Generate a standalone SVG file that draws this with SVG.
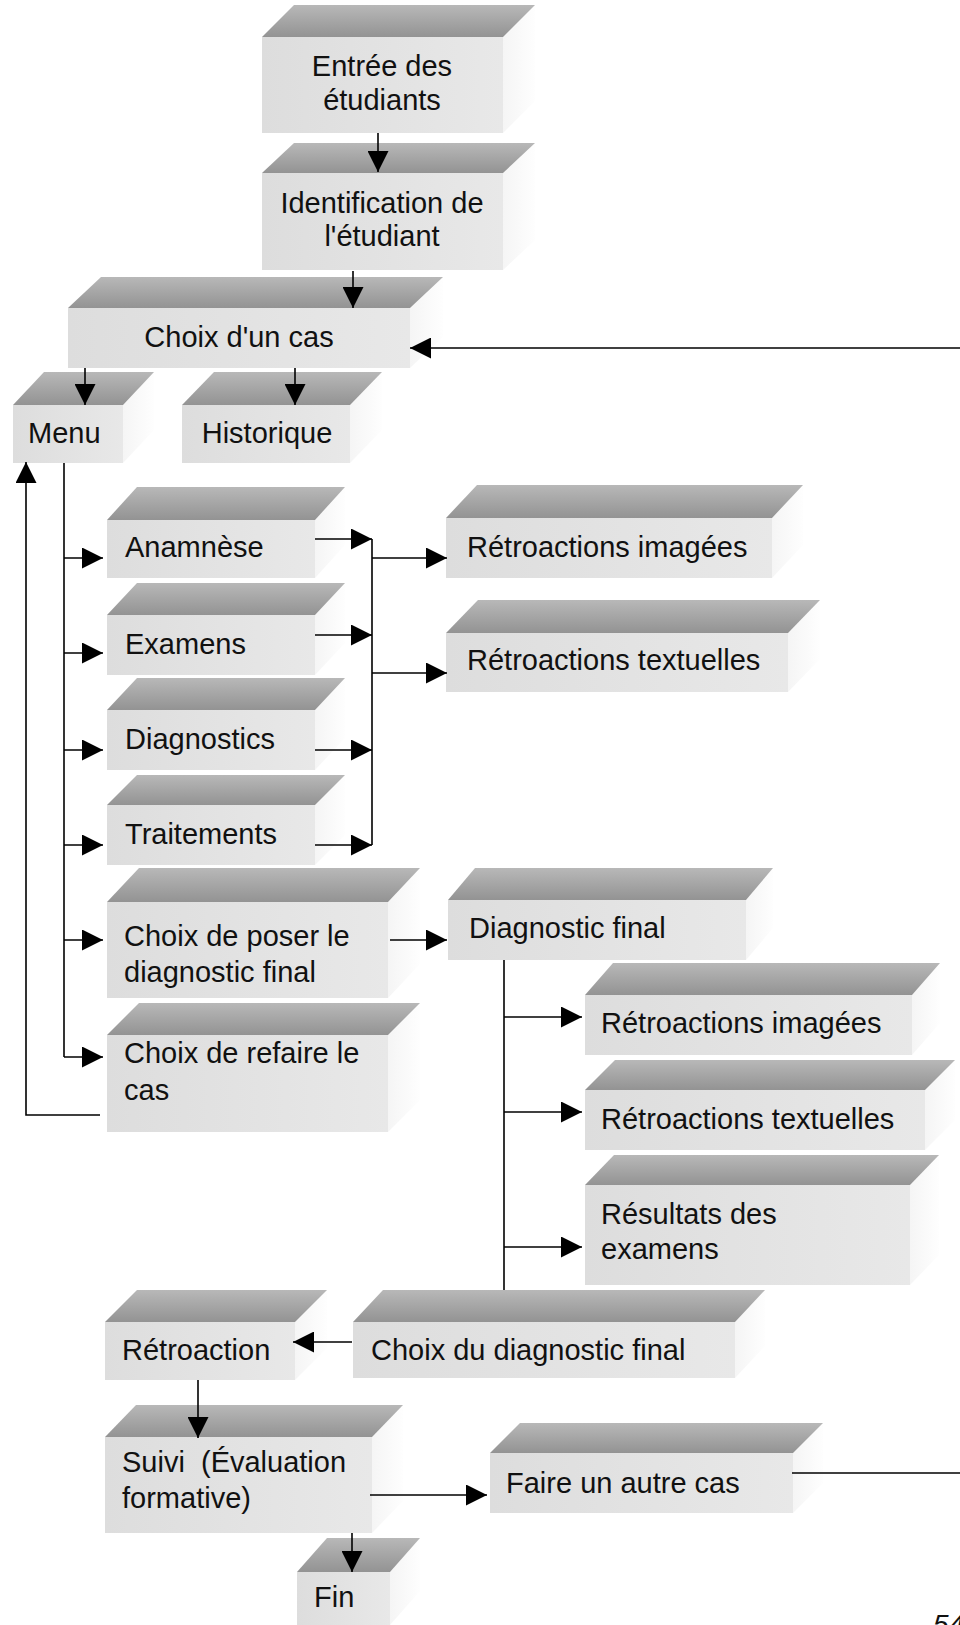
<svg xmlns="http://www.w3.org/2000/svg" width="960" height="1625" viewBox="0 0 960 1625">
<defs>
<linearGradient id="gTop" x1="0" y1="0" x2="0" y2="1"><stop offset="0" stop-color="#b8b8b8"/><stop offset="1" stop-color="#939393"/></linearGradient>
<linearGradient id="gFront" x1="0" y1="0" x2="1" y2="0"><stop offset="0" stop-color="#dddddd"/><stop offset="1" stop-color="#e8e8e8"/></linearGradient>
<linearGradient id="gSide" x1="0" y1="0" x2="1" y2="0"><stop offset="0" stop-color="#f5f5f5"/><stop offset="1" stop-color="#fefefe"/></linearGradient>
<marker id="ah" markerUnits="userSpaceOnUse" markerWidth="21" markerHeight="21" refX="21" refY="10.5" orient="auto" viewBox="0 0 21 21"><path d="M0,0 L21,10.5 L0,21 Z" fill="#000"/></marker>
</defs>
<style>
.top{fill:url(#gTop)}
.front{fill:url(#gFront)}
.side{fill:url(#gSide)}
.t{font-family:"Liberation Sans",Arial,sans-serif;font-size:29px;fill:#111}
.c{text-anchor:middle}
.ln{stroke:#000;stroke-width:1.6;fill:none}
.ar{marker-end:url(#ah)}
</style>
<rect width="960" height="1625" fill="#fff"/>

<g id="n-entree"><path class="side" d="M503,37 L535,5 V101 L503,133 Z"/><path class="top" d="M294,5 H535 L503,37 H262 Z"/><rect class="front" x="262" y="37" width="241" height="96"/><text class="t c" x="382" y="76">Entrée des</text><text class="t c" x="382" y="110">étudiants</text></g>
<g id="n-ident"><path class="side" d="M503,173 L535,143 V240 L503,270 Z"/><path class="top" d="M294,143 H535 L503,173 H262 Z"/><rect class="front" x="262" y="173" width="241" height="97"/><text class="t c" x="382" y="213">Identification de</text><text class="t c" x="382" y="246">l'étudiant</text></g>
<g id="n-choix"><path class="side" d="M410,308 L443,277 V337 L410,368 Z"/><path class="top" d="M101,277 H443 L410,308 H68 Z"/><rect class="front" x="68" y="308" width="342" height="60"/><text class="t c" x="239" y="347">Choix d'un cas</text></g>
<g id="n-menu"><path class="side" d="M123,405 L154,372 V430 L123,463 Z"/><path class="top" d="M44,372 H154 L123,405 H13 Z"/><rect class="front" x="13" y="405" width="110" height="58"/><text class="t" x="28" y="443">Menu</text></g>
<g id="n-hist"><path class="side" d="M350,405 L382,372 V430 L350,463 Z"/><path class="top" d="M214,372 H382 L350,405 H182 Z"/><rect class="front" x="182" y="405" width="168" height="58"/><text class="t c" x="267" y="443">Historique</text></g>
<g id="n-anam"><path class="side" d="M315,520 L345,487 V545 L315,578 Z"/><path class="top" d="M137,487 H345 L315,520 H107 Z"/><rect class="front" x="107" y="520" width="208" height="58"/><text class="t" x="125" y="557">Anamnèse</text></g>
<g id="n-exam"><path class="side" d="M315,615 L345,583 V643 L315,675 Z"/><path class="top" d="M137,583 H345 L315,615 H107 Z"/><rect class="front" x="107" y="615" width="208" height="60"/><text class="t" x="125" y="654">Examens</text></g>
<g id="n-diag"><path class="side" d="M315,710 L345,678 V738 L315,770 Z"/><path class="top" d="M137,678 H345 L315,710 H107 Z"/><rect class="front" x="107" y="710" width="208" height="60"/><text class="t" x="125" y="749">Diagnostics</text></g>
<g id="n-trait"><path class="side" d="M315,805 L345,775 V835 L315,865 Z"/><path class="top" d="M137,775 H345 L315,805 H107 Z"/><rect class="front" x="107" y="805" width="208" height="60"/><text class="t" x="125" y="844">Traitements</text></g>
<g id="n-poser"><path class="side" d="M388,902 L420,868 V964 L388,998 Z"/><path class="top" d="M139,868 H420 L388,902 H107 Z"/><rect class="front" x="107" y="902" width="281" height="96"/><text class="t" x="124" y="946">Choix de poser le</text><text class="t" x="124" y="982">diagnostic final</text></g>
<g id="n-refaire"><path class="side" d="M388,1035 L420,1003 V1100 L388,1132 Z"/><path class="top" d="M139,1003 H420 L388,1035 H107 Z"/><rect class="front" x="107" y="1035" width="281" height="97"/><text class="t" x="124" y="1063">Choix de refaire le</text><text class="t" x="124" y="1100">cas</text></g>
<g id="n-retim1"><path class="side" d="M772,518 L803,485 V545 L772,578 Z"/><path class="top" d="M477,485 H803 L772,518 H446 Z"/><rect class="front" x="446" y="518" width="326" height="60"/><text class="t" x="467" y="557">Rétroactions imagées</text></g>
<g id="n-rettx1"><path class="side" d="M788,633 L820,600 V659 L788,692 Z"/><path class="top" d="M478,600 H820 L788,633 H446 Z"/><rect class="front" x="446" y="633" width="342" height="59"/><text class="t" x="467" y="670">Rétroactions textuelles</text></g>
<g id="n-diagfinal"><path class="side" d="M746,900 L773,868 V928 L746,960 Z"/><path class="top" d="M475,868 H773 L746,900 H448 Z"/><rect class="front" x="448" y="900" width="298" height="60"/><text class="t" x="469" y="938">Diagnostic final</text></g>
<g id="n-retim2"><path class="side" d="M912,995 L940,963 V1023 L912,1055 Z"/><path class="top" d="M613,963 H940 L912,995 H585 Z"/><rect class="front" x="585" y="995" width="327" height="60"/><text class="t" x="601" y="1033">Rétroactions imagées</text></g>
<g id="n-rettx2"><path class="side" d="M925,1090 L955,1060 V1120 L925,1150 Z"/><path class="top" d="M615,1060 H955 L925,1090 H585 Z"/><rect class="front" x="585" y="1090" width="340" height="60"/><text class="t" x="601" y="1129">Rétroactions textuelles</text></g>
<g id="n-result"><path class="side" d="M910,1185 L939,1155 V1255 L910,1285 Z"/><path class="top" d="M614,1155 H939 L910,1185 H585 Z"/><rect class="front" x="585" y="1185" width="325" height="100"/><text class="t" x="601" y="1224">Résultats des</text><text class="t" x="601" y="1259">examens</text></g>
<g id="n-choixdiag"><path class="side" d="M735,1322 L765,1290 V1346 L735,1378 Z"/><path class="top" d="M383,1290 H765 L735,1322 H353 Z"/><rect class="front" x="353" y="1322" width="382" height="56"/><text class="t" x="371" y="1360">Choix du diagnostic final</text></g>
<g id="n-retro"><path class="side" d="M295,1322 L327,1290 V1348 L295,1380 Z"/><path class="top" d="M137,1290 H327 L295,1322 H105 Z"/><rect class="front" x="105" y="1322" width="190" height="58"/><text class="t" x="122" y="1360">Rétroaction</text></g>
<g id="n-suivi"><path class="side" d="M372,1437 L403,1405 V1501 L372,1533 Z"/><path class="top" d="M136,1405 H403 L372,1437 H105 Z"/><rect class="front" x="105" y="1437" width="267" height="96"/><text class="t" x="122" y="1472" xml:space="preserve">Suivi  (Évaluation</text><text class="t" x="122" y="1508">formative)</text></g>
<g id="n-faire"><path class="side" d="M793,1453 L823,1423 V1483 L793,1513 Z"/><path class="top" d="M520,1423 H823 L793,1453 H490 Z"/><rect class="front" x="490" y="1453" width="303" height="60"/><text class="t" x="506" y="1493">Faire un autre cas</text></g>
<g id="n-fin"><path class="side" d="M390,1572 L420,1538 V1591 L390,1625 Z"/><path class="top" d="M327,1538 H420 L390,1572 H297 Z"/><rect class="front" x="297" y="1572" width="93" height="53"/><text class="t" x="314" y="1607">Fin</text></g>

<g id="connectors">
<path class="ln ar" d="M378,133 V172"/>
<path class="ln ar" d="M353,271 V308"/>
<path class="ln ar" d="M85,368 V405"/>
<path class="ln ar" d="M295,368 V405"/>
<path class="ln ar" d="M960,348 H410"/>
<path class="ln" d="M64,463 V1057"/>
<path class="ln ar" d="M64,558 H103"/>
<path class="ln ar" d="M64,653 H103"/>
<path class="ln ar" d="M64,750 H103"/>
<path class="ln ar" d="M64,845 H103"/>
<path class="ln ar" d="M64,940 H103"/>
<path class="ln ar" d="M64,1057 H103"/>
<path class="ln ar" d="M100,1115 H26 V462"/>
<path class="ln ar" d="M315,539 H372"/>
<path class="ln ar" d="M315,635 H372"/>
<path class="ln ar" d="M315,750 H372"/>
<path class="ln ar" d="M315,845 H372"/>
<path class="ln" d="M372,539 V845"/>
<path class="ln ar" d="M372,558 H447"/>
<path class="ln ar" d="M372,673 H447"/>
<path class="ln ar" d="M390,940 H447"/>
<path class="ln" d="M504,960 V1290"/>
<path class="ln ar" d="M504,1017 H582"/>
<path class="ln ar" d="M504,1112 H582"/>
<path class="ln ar" d="M504,1247 H582"/>
<path class="ln ar" d="M352,1342 H293"/>
<path class="ln ar" d="M198,1380 V1438"/>
<path class="ln ar" d="M370,1495 H487"/>
<path class="ln ar" d="M352,1533 V1572"/>
<path class="ln" d="M792,1473 H960"/>
</g>
<text x="933" y="1634" style="font-family:'Liberation Sans',Arial,sans-serif;font-size:28px;font-style:italic;fill:#111">54</text>
</svg>
